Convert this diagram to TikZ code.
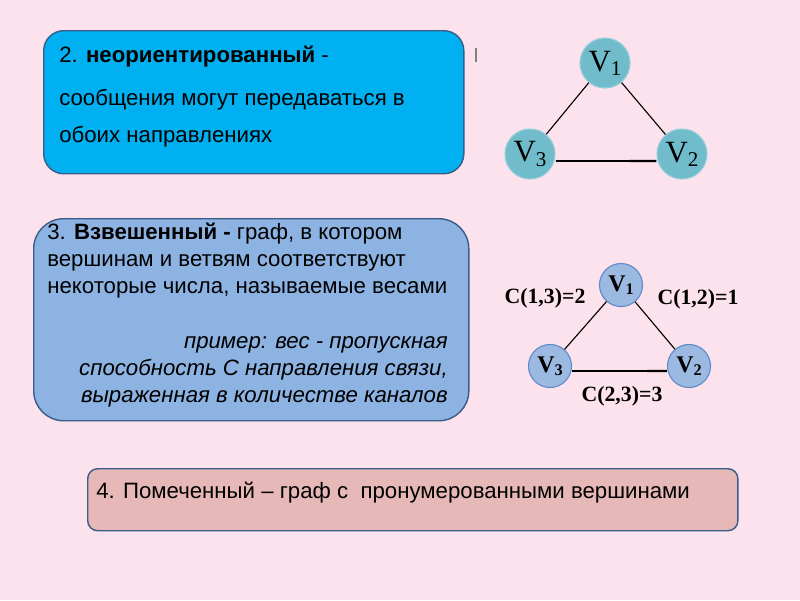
\documentclass[tikz,border=0pt]{standalone}
\usepackage{fontspec}
\setmainfont{Liberation Sans}
\newfontfamily\timesfont{Liberation Serif}
\usetikzlibrary{positioning,calc}
\definecolor{slidepink}{RGB}{252,226,236}
\definecolor{panelline}{RGB}{56,93,138}
\definecolor{boxcyan}{RGB}{0,176,240}
\definecolor{boxblue}{RGB}{141,179,226}
\definecolor{boxrose}{RGB}{230,185,184}
\definecolor{vtxafill}{RGB}{112,188,202}
\definecolor{vtxaline}{RGB}{150,205,220}
\definecolor{vtxbfill}{RGB}{155,185,225}
\definecolor{vtxbline}{RGB}{95,140,200}
\newcommand{\Vname}[1]{V\raisebox{-0.3ex}{\scalebox{0.68}{#1}}}
\tikzset{
  panel/.style={draw=panelline, line width=1pt},
  ptext/.style={inner sep=0pt, align=left},
  vtxa/.style={circle, draw=vtxaline, fill=vtxafill, line width=0.8pt,
               minimum size=1.25cm, inner sep=0pt, font=\timesfont\fontsize{22}{22}\selectfont},
  vtxb/.style={circle, draw=vtxbline, fill=vtxbfill, line width=0.8pt,
               minimum size=1.075cm, inner sep=0pt, font=\timesfont\bfseries\fontsize{17}{17}\selectfont},
  edge/.style={black, line width=0.8pt},
  wlab/.style={inner sep=0pt, font=\timesfont\bfseries\fontsize{15.5}{15.5}\selectfont},
}

\begin{document}
\begin{tikzpicture}[x=0.025cm, y=-0.025cm]
  \fill[slidepink] (0,0) rectangle (800,600);
  \useasboundingbox (0,0) rectangle (800,600);

  % boxes with text
  \node[panel, fill=boxcyan, rounded corners=0.5cm, minimum width=10.5cm,
        minimum height=3.575cm, anchor=north west] (undir) at (43,30) {};
  \node[ptext, anchor=base west, font=\fontsize{15.8}{26.3}\selectfont] (undirtxt) at (59,142)
    {2. \textbf{неориентированный} -\\[3.6pt]
     сообщения могут передаваться в\\
     обоих направлениях};

  \node[panel, fill=boxblue, rounded corners=0.75cm, minimum width=10.875cm,
        minimum height=5.05cm, anchor=north west] (weight) at (33,218) {};
  \node[ptext, anchor=base west, font=\fontsize{15.8}{19.2}\selectfont] (weighttxt) at (47,293)
    {3. \textbf{Взвешенный -} граф, в котором\\
     вершинам и ветвям соответствуют\\
     некоторые числа, называемые весами};
  \node[ptext, align=right, anchor=base east, font=\fontsize{15.8}{19.2}\selectfont\itshape] (example) at (448,402)
    {пример: вес - пропускная\\
     способность С направления связи,\\
     выраженная в количестве каналов};

  \node[panel, fill=boxrose, rounded corners=0.25cm, minimum width=16.25cm,
        minimum height=1.55cm, anchor=north west] (label) at (87,468) {};
  \node[ptext, anchor=base west, font=\fontsize{15.8}{18}\selectfont] (labeltxt) at (96,498)
    {4. Помеченный – граф с\ \ пронумерованными вершинами};

  \draw[gray, line width=1.4pt] (476,48) -- (476,62);

  % undirected graph
  \node[vtxa] (a1) at (605,63) {\Vname{1}};
  \node[vtxa] (a3) at (530,154) {\Vname{3}};
  \node[vtxa] (a2) at (682,154) {\Vname{2}};
  \draw[edge] (a1) -- (a3);
  \draw[edge] (a1) -- (a2);
  \draw[edge] ([yshift=-0.175cm]a3.east) -- ([yshift=-0.175cm]a2.west);
  \draw[edge, line width=1.6pt] ([yshift=-0.175cm]$(a3.east)!0.73!(a2.west)$) -- ([yshift=-0.175cm]a2.west);

  % weighted graph
  \node[vtxb] (b1) at (621,285) {\Vname{1}};
  \node[vtxb] (b3) at (550,366) {\Vname{3}};
  \node[vtxb] (b2) at (689,366) {\Vname{2}};
  \draw[edge] (b1) -- (b3);
  \draw[edge] (b1) -- (b2);
  \draw[edge] ([yshift=-0.125cm]b3.east) -- ([yshift=-0.125cm]b2.west);
  \draw[edge, line width=1.6pt] ([yshift=-0.125cm]$(b3.east)!0.79!(b2.west)$) -- ([yshift=-0.125cm]b2.west);
  \node[wlab] (w13) at (545,298) {C(1,3)=2};
  \node[wlab] (w12) at (698,299) {C(1,2)=1};
  \node[wlab] (w23) at (622,396) {C(2,3)=3};
\end{tikzpicture}
\end{document}
